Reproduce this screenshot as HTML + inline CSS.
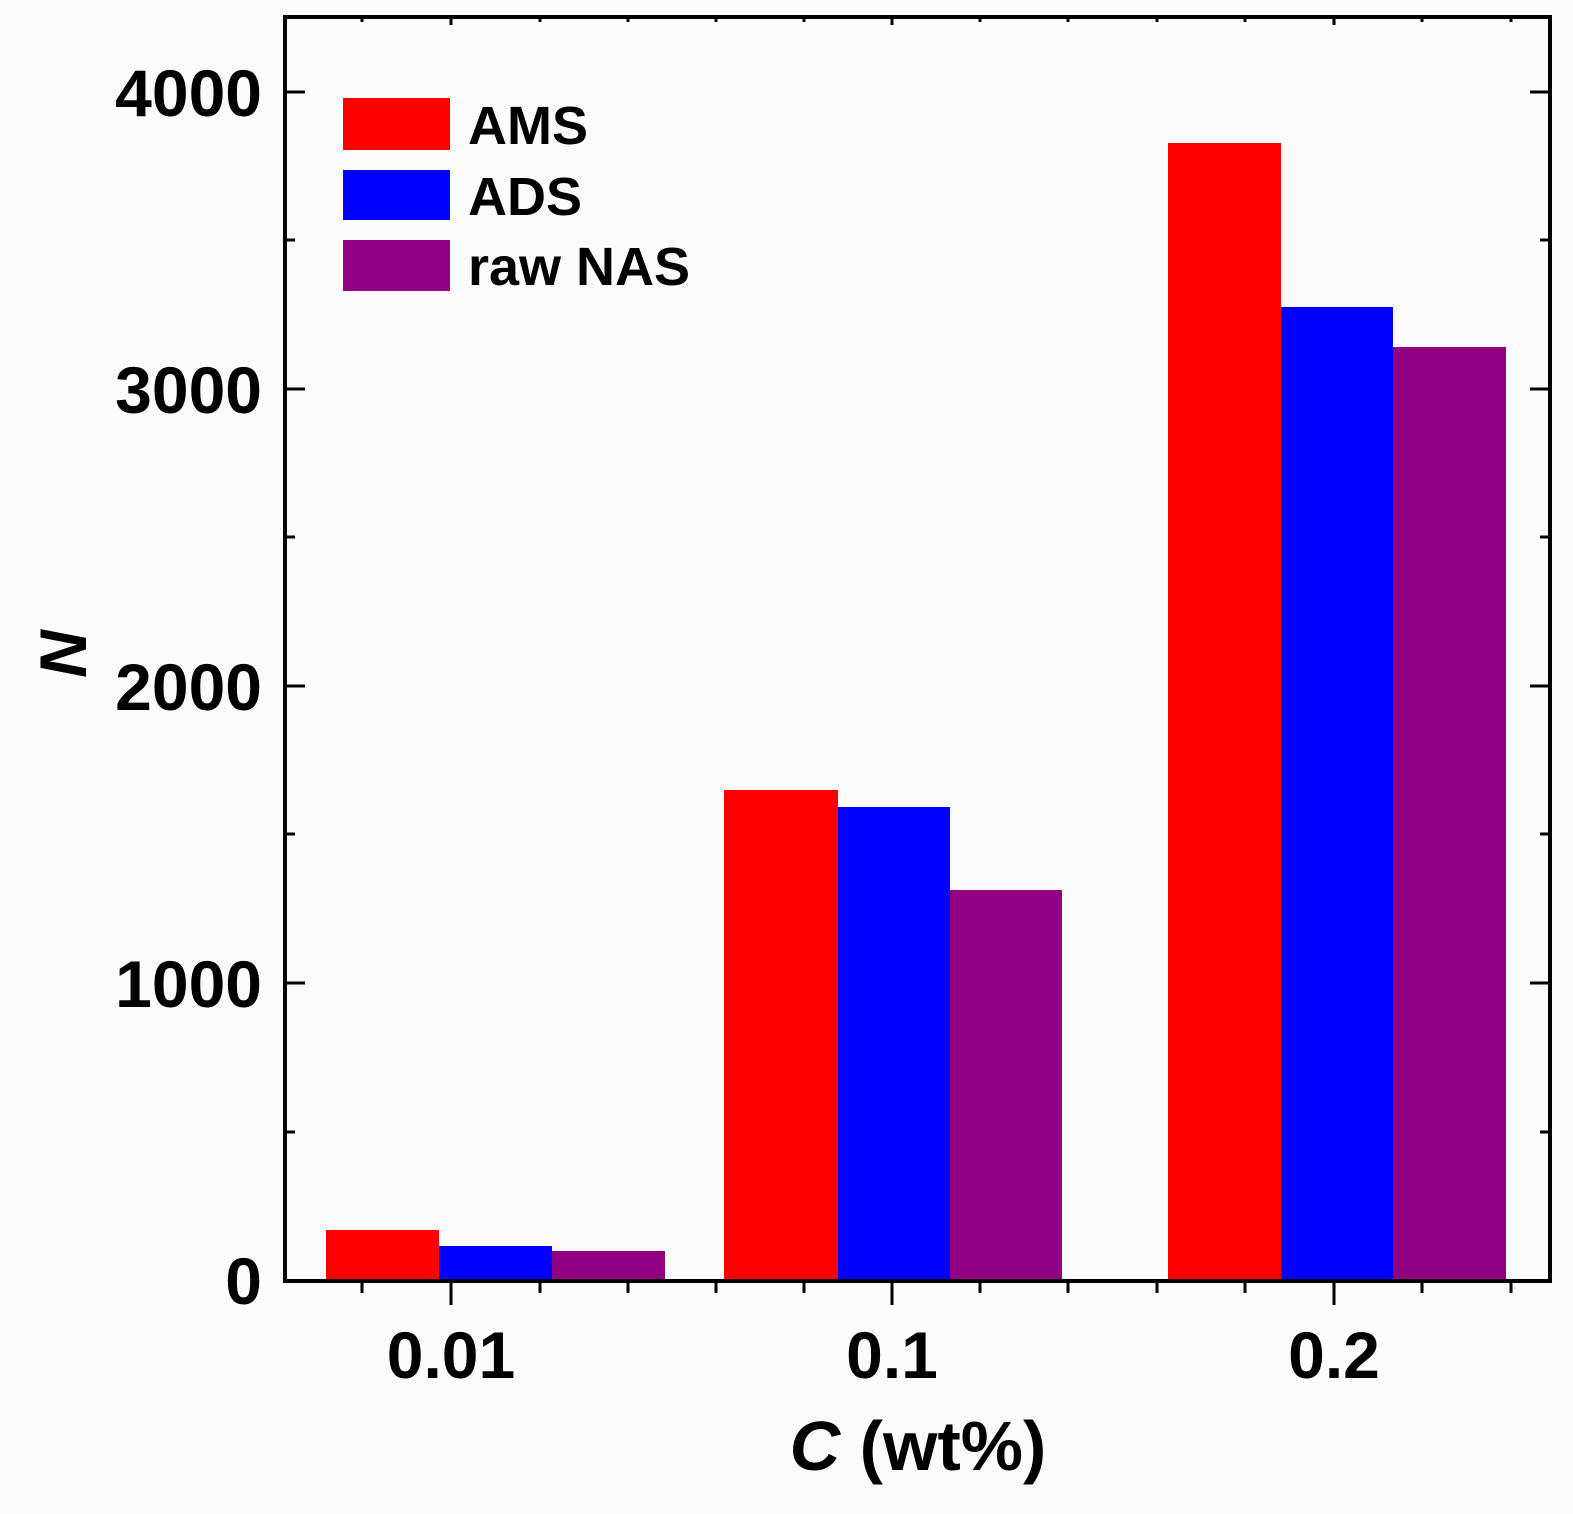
<!DOCTYPE html>
<html><head><style>body{margin:0;background:#fbfbfb}svg{display:block}</style></head><body>
<svg width="1573" height="1514" viewBox="0 0 1573 1514" xmlns="http://www.w3.org/2000/svg" font-family="Liberation Sans, Arial, sans-serif" font-weight="bold">
<rect width="1573" height="1514" fill="#fbfbfb"/>
<g>
<rect x="326" y="1230" width="113" height="51" fill="#ff0000"/>
<rect x="439" y="1246" width="113" height="35" fill="#0000ff"/>
<rect x="552" y="1251" width="113" height="30" fill="#900080"/>
<rect x="724" y="790" width="114" height="491" fill="#ff0000"/>
<rect x="838" y="807" width="112" height="474" fill="#0000ff"/>
<rect x="950" y="890" width="112" height="391" fill="#900080"/>
<rect x="1168" y="143" width="113" height="1138" fill="#ff0000"/>
<rect x="1281" y="307" width="112" height="974" fill="#0000ff"/>
<rect x="1393" y="347" width="113" height="934" fill="#900080"/>
</g>
<rect x="285" y="17" width="1265" height="1264" fill="none" stroke="#000" stroke-width="4"/>
<g stroke="#000" stroke-width="3">
<path d="M285 92h20M285 389h20M285 686h20M285 983h20M285 240h10M285 537h10M285 834h10M285 1132h10"/>
<path d="M1550 92h-20M1550 389h-20M1550 686h-20M1550 983h-20M1550 240h-10M1550 537h-10M1550 834h-10M1550 1132h-10"/>
<path d="M451 1281v24M892 1281v24M1334 1281v24M362 1281v12M540 1281v12M628 1281v12M716 1281v12M804 1281v12M980 1281v12M1068 1281v12M1157 1281v12M1245 1281v12M1422 1281v12M1511 1281v12"/>
<path d="M451 17v8M892 17v8M1334 17v8M362 17v5M540 17v5M628 17v5M716 17v5M804 17v5M980 17v5M1068 17v5M1157 17v5M1245 17v5M1422 17v5M1511 17v5"/>
</g>
<g font-size="66" text-anchor="end">
<text x="262" y="116">4000</text>
<text x="262" y="413">3000</text>
<text x="262" y="710">2000</text>
<text x="262" y="1007">1000</text>
<text x="262" y="1304">0</text>
</g>
<g font-size="66" text-anchor="middle">
<text x="451" y="1378">0.01</text>
<text x="892" y="1378">0.1</text>
<text x="1334" y="1378">0.2</text>
<text x="918" y="1470" font-size="70"><tspan font-style="italic">C</tspan> (wt%)</text>
</g>
<text transform="translate(86,654) rotate(-90)" font-size="66" font-style="italic" text-anchor="middle">N</text>
<rect x="343" y="98" width="107" height="52" fill="#ff0000"/>
<rect x="343" y="170" width="107" height="50" fill="#0000ff"/>
<rect x="343" y="240" width="107" height="51" fill="#900080"/>
<g font-size="54">
<text x="468" y="144">AMS</text>
<text x="468" y="215">ADS</text>
<text x="468" y="285">raw NAS</text>
</g>
</svg>
</body></html>
